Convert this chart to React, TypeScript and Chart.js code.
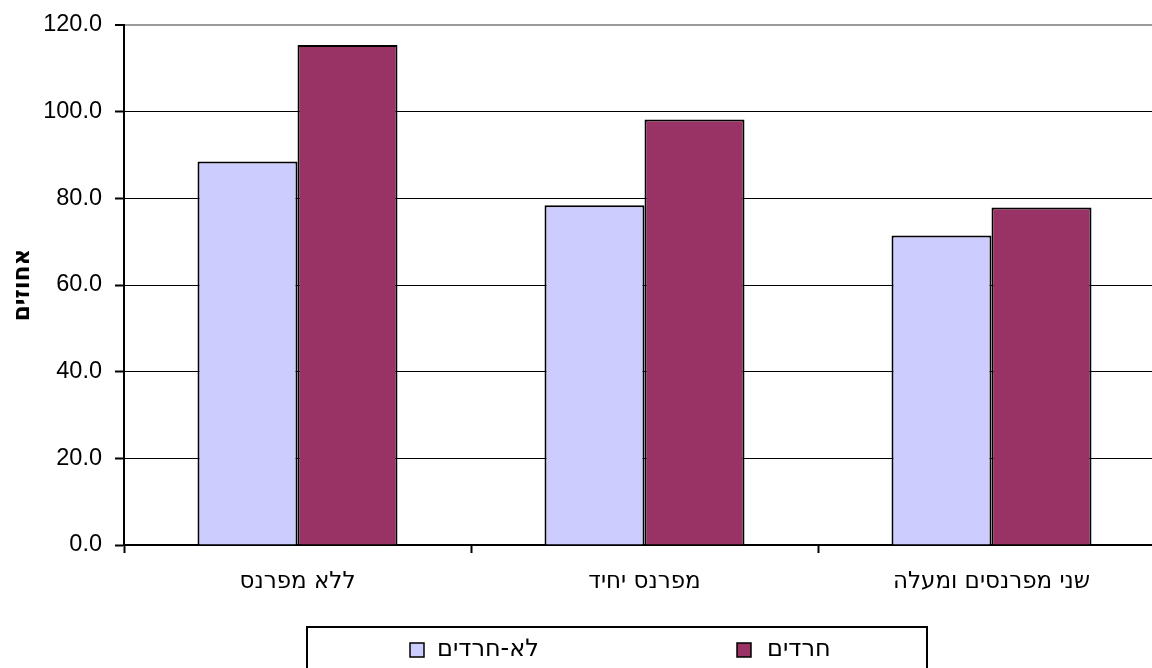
import React, { useEffect, useRef } from 'react';
import { Chart, registerables } from 'chart.js';
Chart.register(...registerables);

const categories = ['ללא מפרנס', 'מפרנס יחיד', 'שני מפרנסים ומעלה'];
const seriesNames = ['לא-חרדים', 'חרדים'];
const nonHaredi = [88.5, 78.4, 71.4];
const haredi = [115.4, 98.2, 77.9];
const yMin = 0;
const yMax = 120;
const yStep = 20;
const yTitle = 'אחוזים';
const colors = ['#CCCCFF', '#993366'];

const FONT = "'Liberation Sans', Arial, sans-serif";
const HEB = "'DejaVu Sans', sans-serif";

const boxLegend = {
  id: 'boxLegend',
  afterDraw(chart: any) {
    const ctx = chart.ctx;
    ctx.save();
    ctx.strokeStyle = '#000';
    ctx.lineWidth = 2;
    ctx.strokeRect(307, 627, 620, 60);
    const items = [
      { sq: 410, tx: 437 },
      { sq: 737, tx: 767 },
    ];
    ctx.font = `24px ${HEB}`;
    ctx.textBaseline = 'middle';
    ctx.textAlign = 'left';
    chart.data.datasets.forEach((ds: any, i: number) => {
      const it = items[i];
      ctx.fillStyle = ds.backgroundColor;
      ctx.fillRect(it.sq, 643, 14, 14);
      ctx.lineWidth = 1.5;
      ctx.strokeStyle = '#000';
      ctx.strokeRect(it.sq, 643, 14, 14);
      ctx.fillStyle = '#000';
      ctx.fillText(ds.label, it.tx, 650);
    });
    ctx.restore();
  },
};

export default function App() {
  const ref = useRef<HTMLCanvasElement>(null);
  useEffect(() => {
    const chart = new Chart(ref.current as HTMLCanvasElement, {
      type: 'bar',
      data: {
        labels: categories,
        datasets: [
          {
            label: seriesNames[0],
            data: nonHaredi,
            backgroundColor: colors[0],
            borderColor: '#000',
            borderWidth: 2,
            categoryPercentage: 200 / 347,
            barPercentage: 1,
          },
          {
            label: seriesNames[1],
            data: haredi,
            backgroundColor: colors[1],
            borderColor: '#000',
            borderWidth: 2,
            categoryPercentage: 200 / 347,
            barPercentage: 1,
          },
        ],
      },
      options: {
        responsive: false,
        animation: false,
        devicePixelRatio: 1,
        layout: { padding: { top: 25, right: 35, bottom: 0, left: 0 } },
        plugins: {
          legend: { display: false },
          tooltip: { enabled: false },
        },
        scales: {
          x: {
            offset: true,
            grid: {
              offset: true,
              drawOnChartArea: false,
              drawTicks: true,
              tickLength: 8,
              tickColor: '#000',
              tickWidth: 2,
            },
            border: { color: '#000', width: 2 },
            ticks: {
              color: '#000',
              font: { family: HEB, size: 23 },
              padding: 15,
              maxRotation: 0,
            },
            afterFit(scale: any) {
              scale.height = 123;
            },
          },
          y: {
            min: yMin,
            max: yMax,
            grid: {
              color: (c: any) => (c.tick && c.tick.value === yMax ? '#9a9a9a' : '#000'),
              lineWidth: (c: any) => (c.tick && c.tick.value === yMax ? 2 : 1),
              drawTicks: true,
              tickLength: 9,
              tickColor: '#000',
              tickWidth: 2,
            },
            border: { color: '#000', width: 2 },
            ticks: {
              stepSize: yStep,
              color: '#000',
              font: { family: FONT, size: 23.5 },
              padding: 13,
              callback: (v: any) => Number(v).toFixed(1),
            },
            title: {
              display: true,
              text: yTitle,
              color: '#000',
              font: { family: HEB, size: 23, weight: 'bold' },
              padding: { top: 9, bottom: 0 },
            },
            afterFit(scale: any) {
              scale.width = 124;
              scale.paddingTop = 10;
              scale.paddingBottom = 10;
            },
          },
        },
      },
      plugins: [boxLegend],
    });
    return () => chart.destroy();
  }, []);
  return (
    <div style={{ position: 'fixed', left: 0, top: 0, width: 1152, height: 668, overflow: 'hidden', background: '#fff' }}>
      <canvas ref={ref} width={1200} height={668} style={{ width: 1200, height: 668, display: 'block' }} />
    </div>
  );
}
